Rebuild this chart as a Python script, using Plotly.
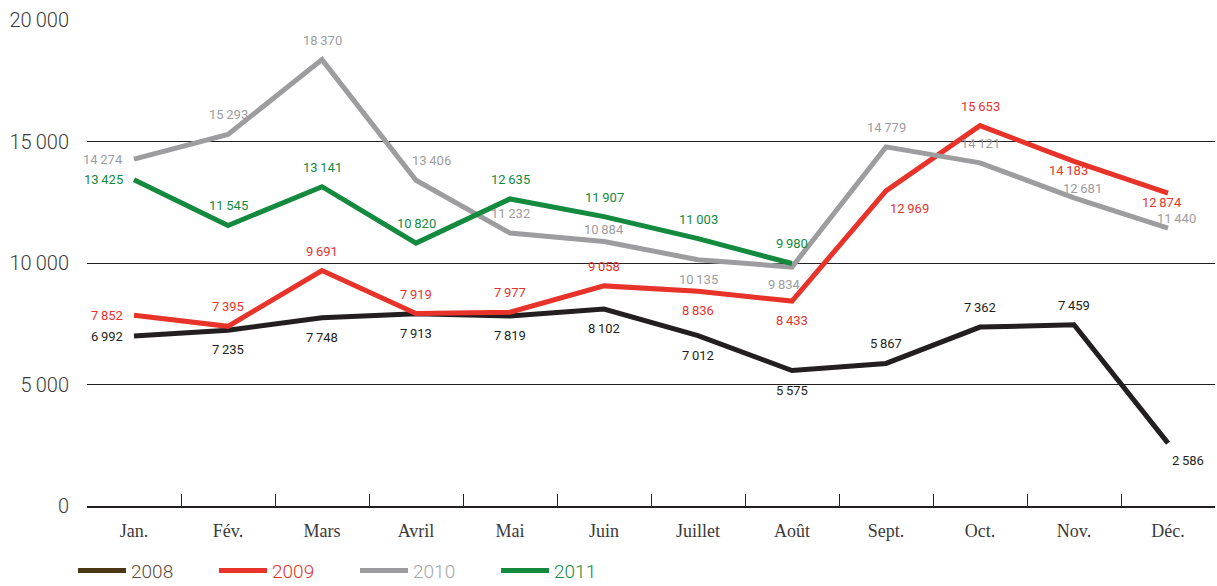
import plotly.graph_objects as go

months = ["Jan.", "Fév.", "Mars", "Avril", "Mai", "Juin", "Juillet", "Août", "Sept.", "Oct.", "Nov.", "Déc."]
v2008 = [6992, 7235, 7748, 7913, 7819, 8102, 7012, 5575, 5867, 7362, 7459, 2586]
v2009 = [7852, 7395, 9691, 7919, 7977, 9058, 8836, 8433, 12969, 15653, 14183, 12874]
v2010 = [14274, 15293, 18370, 13406, 11232, 10884, 10135, 9834, 14779, 14121, 12681, 11440]
v2011 = [13425, 11545, 13141, 10820, 12635, 11907, 11003, 9980]
y_ticks = [0, 5000, 10000, 15000, 20000]

def fmt(v):
    return f"{v:,}".replace(",", "\u2009")

# label placement codes (style only)
pos2008 = ["L", "B", "B", "B", "B", "B", "B", "B", "T", "T", "T", "BR"]
pos2009 = ["L", "T", "T", "T", "T", "T", "B", "B", "BR", "T", "Bl", "Bl"]
pos2010 = ["L", "T", "T", "TR", "T", "Ts", "B", "Bm", "T", "T", "Tr", "Tr"]
pos2011 = ["L", "T", "T", "T", "T", "T", "T", "T"]

series = [
    ("2008", v2008, "#231f20", pos2008, "#4a3814", "#5a4a38"),
    ("2009", v2009, "#e8332a", pos2009, "#e8332a", "#e8332a"),
    ("2010", v2010, "#9d9d9f", pos2010, "#9d9d9f", "#a5a5a7"),
    ("2011", v2011, "#138a3e", pos2011, "#138a3e", "#138a3e"),
]

FONT = "Roboto"
SHIFT = {
    "L": dict(xshift=-9, yshift=0, xanchor="right", yanchor="middle"),
    "T": dict(xshift=0, yshift=10, xanchor="center", yanchor="bottom"),
    "Ts": dict(xshift=0, yshift=3, xanchor="center", yanchor="bottom"),
    "Tr": dict(xshift=8, yshift=0, xanchor="center", yanchor="bottom"),
    "TR": dict(xshift=-6, yshift=10, xanchor="left", yanchor="bottom"),
    "B": dict(xshift=0, yshift=-10, xanchor="center", yanchor="top"),
    "Bm": dict(xshift=-8, yshift=-8, xanchor="center", yanchor="top"),
    "Bl": dict(xshift=-6, yshift=0, xanchor="center", yanchor="top"),
    "BR": dict(xshift=2, yshift=-8, xanchor="left", yanchor="top"),
}

fig = go.Figure()
annotations = []
for name, vals, col, pos, legcol, legtxt in series:
    xs = months[:len(vals)]
    fig.add_trace(go.Scatter(
        x=xs, y=vals, mode="lines",
        line=dict(color=col, width=5),
        showlegend=False, hoverinfo="skip",
    ))
    for x, v, p in zip(xs, vals, pos):
        annotations.append(dict(x=x, y=v, xref="x", yref="y", text=fmt(v), showarrow=False,
                                font=dict(color=col, size=13, family=FONT), **SHIFT[p]))
for name, vals, col, pos, legcol, legtxt in series:
    fig.add_trace(go.Scatter(
        x=[None], y=[None], mode="lines",
        line=dict(color=legcol, width=5),
        name=f"<span style='color:{legtxt}'>{name}</span>",
    ))

fig.update_layout(
    width=1217, height=586,
    margin=dict(l=87, r=2, t=20, b=80),
    plot_bgcolor="white", paper_bgcolor="white",
    font=dict(family=FONT, size=17, color="#3a3a3a"),
    annotations=annotations,
    legend=dict(orientation="h", xref="paper", x=-0.0124, xanchor="left",
                yref="container", y=0.026, yanchor="middle",
                font=dict(size=19, family=FONT, weight=300), itemwidth=48, entrywidth=78,
                traceorder="normal"),
    xaxis=dict(type="category", categoryorder="array", categoryarray=months, automargin=False,
               range=[-0.5, 11.5], showgrid=False, showline=True, linecolor="#231f20", linewidth=1.5,
               ticks="inside", ticklen=12, tickcolor="#231f20", tickwidth=1, tickson="boundaries",
               ticklabelstandoff=8,
               tickfont=dict(size=18, family="Liberation Serif", color="#3a3a3a"), zeroline=False),
    yaxis=dict(range=[0, 20000], tickvals=y_ticks, ticktext=[fmt(v) for v in y_ticks], automargin=False,
               showgrid=True, gridcolor="#231f20", gridwidth=1, zeroline=False, showline=False,
               ticks="", ticklabelstandoff=17,
               tickfont=dict(size=20, family=FONT, weight=300, color="#3a3a3a")),
)
fig.write_html("out.html", config={"displayModeBar": False},
               post_script="document.body.style.margin='0';document.body.style.overflow='hidden';")
